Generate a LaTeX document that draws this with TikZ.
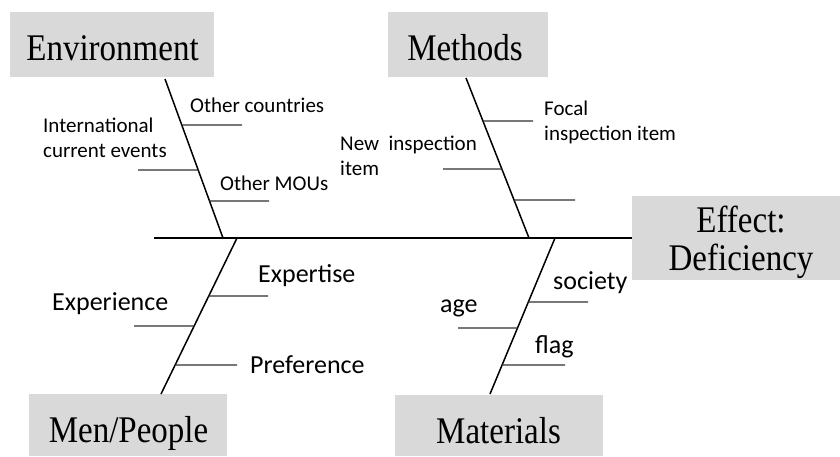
\documentclass[tikz,border=0pt]{standalone}
\usepackage{fontspec}
\usepackage{graphicx}
\setmainfont{Liberation Serif}
\newfontfamily\labelfont{Carlito}
\usetikzlibrary{calc}
\definecolor{boxgray}{HTML}{D9D9D9}
\definecolor{twiggray}{HTML}{303030}
% heading glyphs are a little taller than plain Times
\newcommand\tallhead[1]{\scalebox{1}[1.14]{#1}}
\begin{document}
\begin{tikzpicture}[x=1pt,y=-1pt,
  catbox/.style={fill=boxgray,draw=none,inner sep=0,anchor=north west},
  head/.style={inner sep=0,anchor=base,font=\fontsize{33}{38}\selectfont},
  smalllbl/.style={inner sep=0,anchor=base west,font=\labelfont\fontsize{21}{25}\selectfont},
  biglbl/.style={inner sep=0,anchor=base west,font=\labelfont\fontsize{26}{30}\selectfont},
  bone/.style={line width=1.5pt,black},
  spine/.style={line width=1.8pt,black},
  twig/.style={line width=1.1pt,twiggray}]
\useasboundingbox (0,0) rectangle (840,456);

% category boxes
\node[catbox,minimum width=204,minimum height=65] (envBox) at (10,12) {};
\node[catbox,minimum width=160,minimum height=65] (methBox) at (388,12) {};
\node[catbox,minimum width=208,minimum height=84] (effBox) at (632,196) {};
\node[catbox,minimum width=198,minimum height=62] (menBox) at (29,394) {};
\node[catbox,minimum width=208,minimum height=61] (matBox) at (395,395) {};

% category titles
\node[head] (envText) at (112.5,60) {\tallhead{Environment}};
\node[head] (methText) at (465,60) {\tallhead{Methods}};
\node[head] (effText) at (741,232) {\tallhead{Effect:}};
\node[head] (defText) at (741,270) {\tallhead{Deficiency}};
\node[head] (menText) at (128.5,442) {\tallhead{Men/People}};
\node[head] (matText) at (498.5,443) {\tallhead{Materials}};

% spine
\coordinate (spineL) at (154,238);
\draw[spine] (spineL) -- (effBox.west |- spineL);

% main bones
\coordinate (envTop) at (165,79);   \coordinate (envBot) at (223,238);
\coordinate (methTop) at (466,78);  \coordinate (methBot) at (529,238);
\coordinate (menTop) at (237,238);  \coordinate (menBot) at (161,394);
\coordinate (matTop) at (555,238);  \coordinate (matBot) at (490,394);
\draw[bone] (envTop) -- (envBot);
\draw[bone] (methTop) -- (methBot);
\draw[bone] (menTop) -- (menBot);
\draw[bone] (matTop) -- (matBot);

% Environment twigs
\coordinate (e1) at ($(envTop)!0.289!(envBot)$); \coordinate (e1x) at (242,125);
\coordinate (e2) at ($(envTop)!0.572!(envBot)$); \coordinate (e2x) at (138,170);
\coordinate (e3) at ($(envTop)!0.767!(envBot)$); \coordinate (e3x) at (269,201);
\draw[twig] (e1) -- (e1x);
\draw[twig] (e2x) -- (e2);
\draw[twig] (e3) -- (e3x);
\node[smalllbl] (lblCountries) at (190,112) {Other countries};
\node[smalllbl] (lblIntl1) at (43,132) {International};
\node[smalllbl] (lblIntl2) at (43,157) {current events};
\node[smalllbl] (lblMOU) at (220,190) {Other MOUs};

% Methods twigs
\coordinate (m1) at ($(methTop)!0.269!(methBot)$); \coordinate (m1x) at (533,121);
\coordinate (m2) at ($(methTop)!0.569!(methBot)$); \coordinate (m2x) at (443,169);
\coordinate (m3) at ($(methTop)!0.7625!(methBot)$); \coordinate (m3x) at (575,200);
\draw[twig] (m1) -- (m1x);
\draw[twig] (m2x) -- (m2);
\draw[twig] (m3) -- (m3x);
\node[smalllbl] (lblFocal1) at (544,115) {Focal};
\node[smalllbl] (lblFocal2) at (544,140) {inspection item};
\node[smalllbl] (lblNew1) at (340,150) {New \ inspection};
\node[smalllbl] (lblNew2) at (340,175) {item};

% Men/People twigs
\coordinate (p1) at ($(menTop)!0.372!(menBot)$); \coordinate (p1x) at (268,296);
\coordinate (p2) at ($(menTop)!0.564!(menBot)$); \coordinate (p2x) at (134,326);
\coordinate (p3) at ($(menTop)!0.814!(menBot)$); \coordinate (p3x) at (237,365);
\draw[twig] (p1) -- (p1x);
\draw[twig] (p2x) -- (p2);
\draw[twig] (p3) -- (p3x);
\node[biglbl] (lblExpertise) at (258,282) {Expertise};
\node[biglbl] (lblExperience) at (52,310) {Experience};
\node[biglbl] (lblPreference) at (250,373) {Preference};

% Materials twigs
\coordinate (t1) at ($(matTop)!0.41!(matBot)$); \coordinate (t1x) at (588,302);
\coordinate (t2) at ($(matTop)!0.577!(matBot)$); \coordinate (t2x) at (458,328);
\coordinate (t3) at ($(matTop)!0.814!(matBot)$); \coordinate (t3x) at (565,365);
\draw[twig] (t1) -- (t1x);
\draw[twig] (t2x) -- (t2);
\draw[twig] (t3) -- (t3x);
\node[biglbl] (lblSociety) at (553,289) {society};
\node[biglbl] (lblAge) at (440,312) {age};
\node[biglbl] (lblFlag) at (535,353) {flag};
\end{tikzpicture}
\end{document}
